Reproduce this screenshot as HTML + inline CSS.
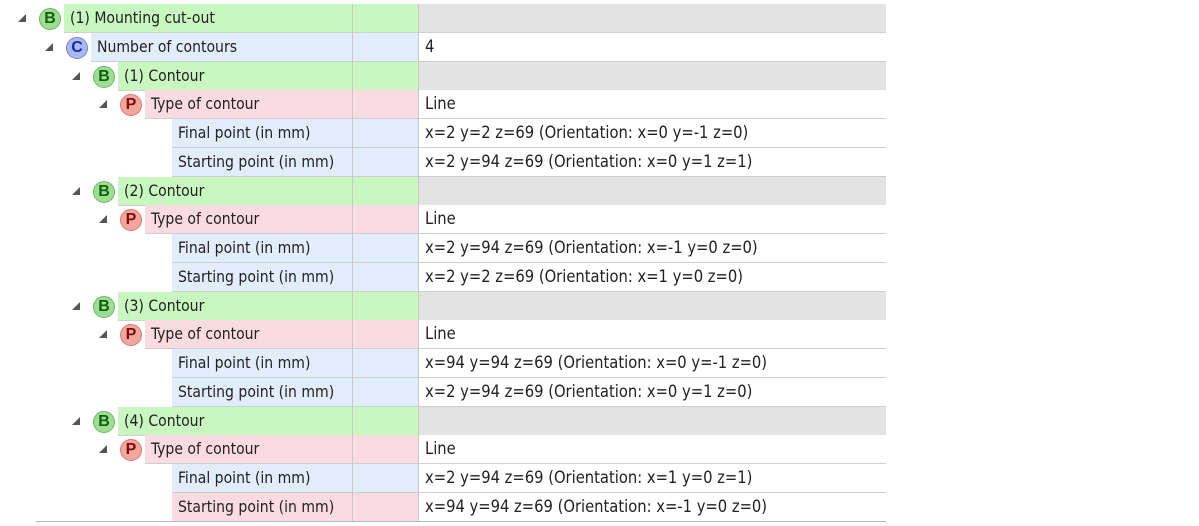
<!DOCTYPE html><html><head><style>
body{margin:0;width:1199px;height:526px;background:#fff;position:relative;overflow:hidden;font-family:"DejaVu Sans Condensed","Liberation Sans",sans-serif;font-size:15.6px;color:#222}
.r{position:absolute;left:0;width:886px;height:29px}
.l,.m,.v{position:absolute;top:0;height:28px;border-bottom:1px solid #cfcfcf;line-height:28px;box-sizing:content-box;white-space:nowrap}
.l{padding-left:6px;box-sizing:border-box;height:29px;border-right:1px solid #c8c8c8}
.m{left:353px;width:65px;height:28px;border-right:1px solid #c8c8c8}
.v{left:419px;width:467px;padding-left:6px;box-sizing:border-box;height:29px;background:#fff;font-size:16.4px}
.g .l,.g .m{background:#c8f7c0}.g .v{background:#e3e3e3}
.b .l,.b .m{background:#e1edfb}
.p .l,.p .m{background:#fbdbe2}
.ic{position:absolute;top:4px;width:20px;height:20px;border-radius:50%;font:bold 16px/20px "Liberation Sans",sans-serif;text-align:center}
.ib{background:#9fdd92;color:#0d600d;border:1px solid #6cb864}
.ic.c{background:#a9b8ee;color:#1d2d9a;border:1px solid #7786cf}
.ip{background:#f3a79c;color:#7a0c0c;border:1px solid #d77a70}
.t{position:absolute;top:10px;width:0;height:0;border-left:8px solid transparent;border-bottom:8px solid #555}
</style></head><body>
<div class="r g" style="top:4px"><span class="t" style="left:18px"></span><span class="ic ib" style="left:39px">B</span><div class="l" style="left:64px;width:289px">(1) Mounting cut-out</div><div class="m"></div><div class="v"></div></div>
<div class="r b" style="top:33px"><span class="t" style="left:45px"></span><span class="ic c" style="left:66px">C</span><div class="l" style="left:91px;width:262px">Number of contours</div><div class="m"></div><div class="v">4</div></div>

<div class="r g" style="top:62px"><span class="t" style="left:72px"></span><span class="ic ib" style="left:93px">B</span><div class="l" style="left:118px;width:235px">(1) Contour</div><div class="m"></div><div class="v"></div></div>
<div class="r p" style="top:90px"><span class="t" style="left:99px"></span><span class="ic ip" style="left:120px">P</span><div class="l" style="left:145px;width:208px">Type of contour</div><div class="m"></div><div class="v">Line</div></div>
<div class="r b" style="top:119px"><div class="l" style="left:172px;width:181px">Final point (in mm)</div><div class="m"></div><div class="v">x=2 y=2 z=69 (Orientation: x=0 y=-1 z=0)</div></div>
<div class="r b" style="top:148px"><div class="l" style="left:172px;width:181px">Starting point (in mm)</div><div class="m"></div><div class="v">x=2 y=94 z=69 (Orientation: x=0 y=1 z=1)</div></div>

<div class="r g" style="top:177px"><span class="t" style="left:72px"></span><span class="ic ib" style="left:93px">B</span><div class="l" style="left:118px;width:235px">(2) Contour</div><div class="m"></div><div class="v"></div></div>
<div class="r p" style="top:205px"><span class="t" style="left:99px"></span><span class="ic ip" style="left:120px">P</span><div class="l" style="left:145px;width:208px">Type of contour</div><div class="m"></div><div class="v">Line</div></div>
<div class="r b" style="top:234px"><div class="l" style="left:172px;width:181px">Final point (in mm)</div><div class="m"></div><div class="v">x=2 y=94 z=69 (Orientation: x=-1 y=0 z=0)</div></div>
<div class="r b" style="top:263px"><div class="l" style="left:172px;width:181px">Starting point (in mm)</div><div class="m"></div><div class="v">x=2 y=2 z=69 (Orientation: x=1 y=0 z=0)</div></div>

<div class="r g" style="top:292px"><span class="t" style="left:72px"></span><span class="ic ib" style="left:93px">B</span><div class="l" style="left:118px;width:235px">(3) Contour</div><div class="m"></div><div class="v"></div></div>
<div class="r p" style="top:320px"><span class="t" style="left:99px"></span><span class="ic ip" style="left:120px">P</span><div class="l" style="left:145px;width:208px">Type of contour</div><div class="m"></div><div class="v">Line</div></div>
<div class="r b" style="top:349px"><div class="l" style="left:172px;width:181px">Final point (in mm)</div><div class="m"></div><div class="v">x=94 y=94 z=69 (Orientation: x=0 y=-1 z=0)</div></div>
<div class="r b" style="top:378px"><div class="l" style="left:172px;width:181px">Starting point (in mm)</div><div class="m"></div><div class="v">x=2 y=94 z=69 (Orientation: x=0 y=1 z=0)</div></div>

<div class="r g" style="top:407px"><span class="t" style="left:72px"></span><span class="ic ib" style="left:93px">B</span><div class="l" style="left:118px;width:235px">(4) Contour</div><div class="m"></div><div class="v"></div></div>
<div class="r p" style="top:435px"><span class="t" style="left:99px"></span><span class="ic ip" style="left:120px">P</span><div class="l" style="left:145px;width:208px">Type of contour</div><div class="m"></div><div class="v">Line</div></div>
<div class="r b" style="top:464px"><div class="l" style="left:172px;width:181px">Final point (in mm)</div><div class="m"></div><div class="v">x=2 y=94 z=69 (Orientation: x=1 y=0 z=1)</div></div>
<div class="r p" style="top:493px"><div class="l" style="left:172px;width:181px">Starting point (in mm)</div><div class="m"></div><div class="v">x=94 y=94 z=69 (Orientation: x=-1 y=0 z=0)</div></div>
<div style="position:absolute;left:36px;top:521px;width:850px;height:1px;background:#b8b8b8"></div>
</body></html>
